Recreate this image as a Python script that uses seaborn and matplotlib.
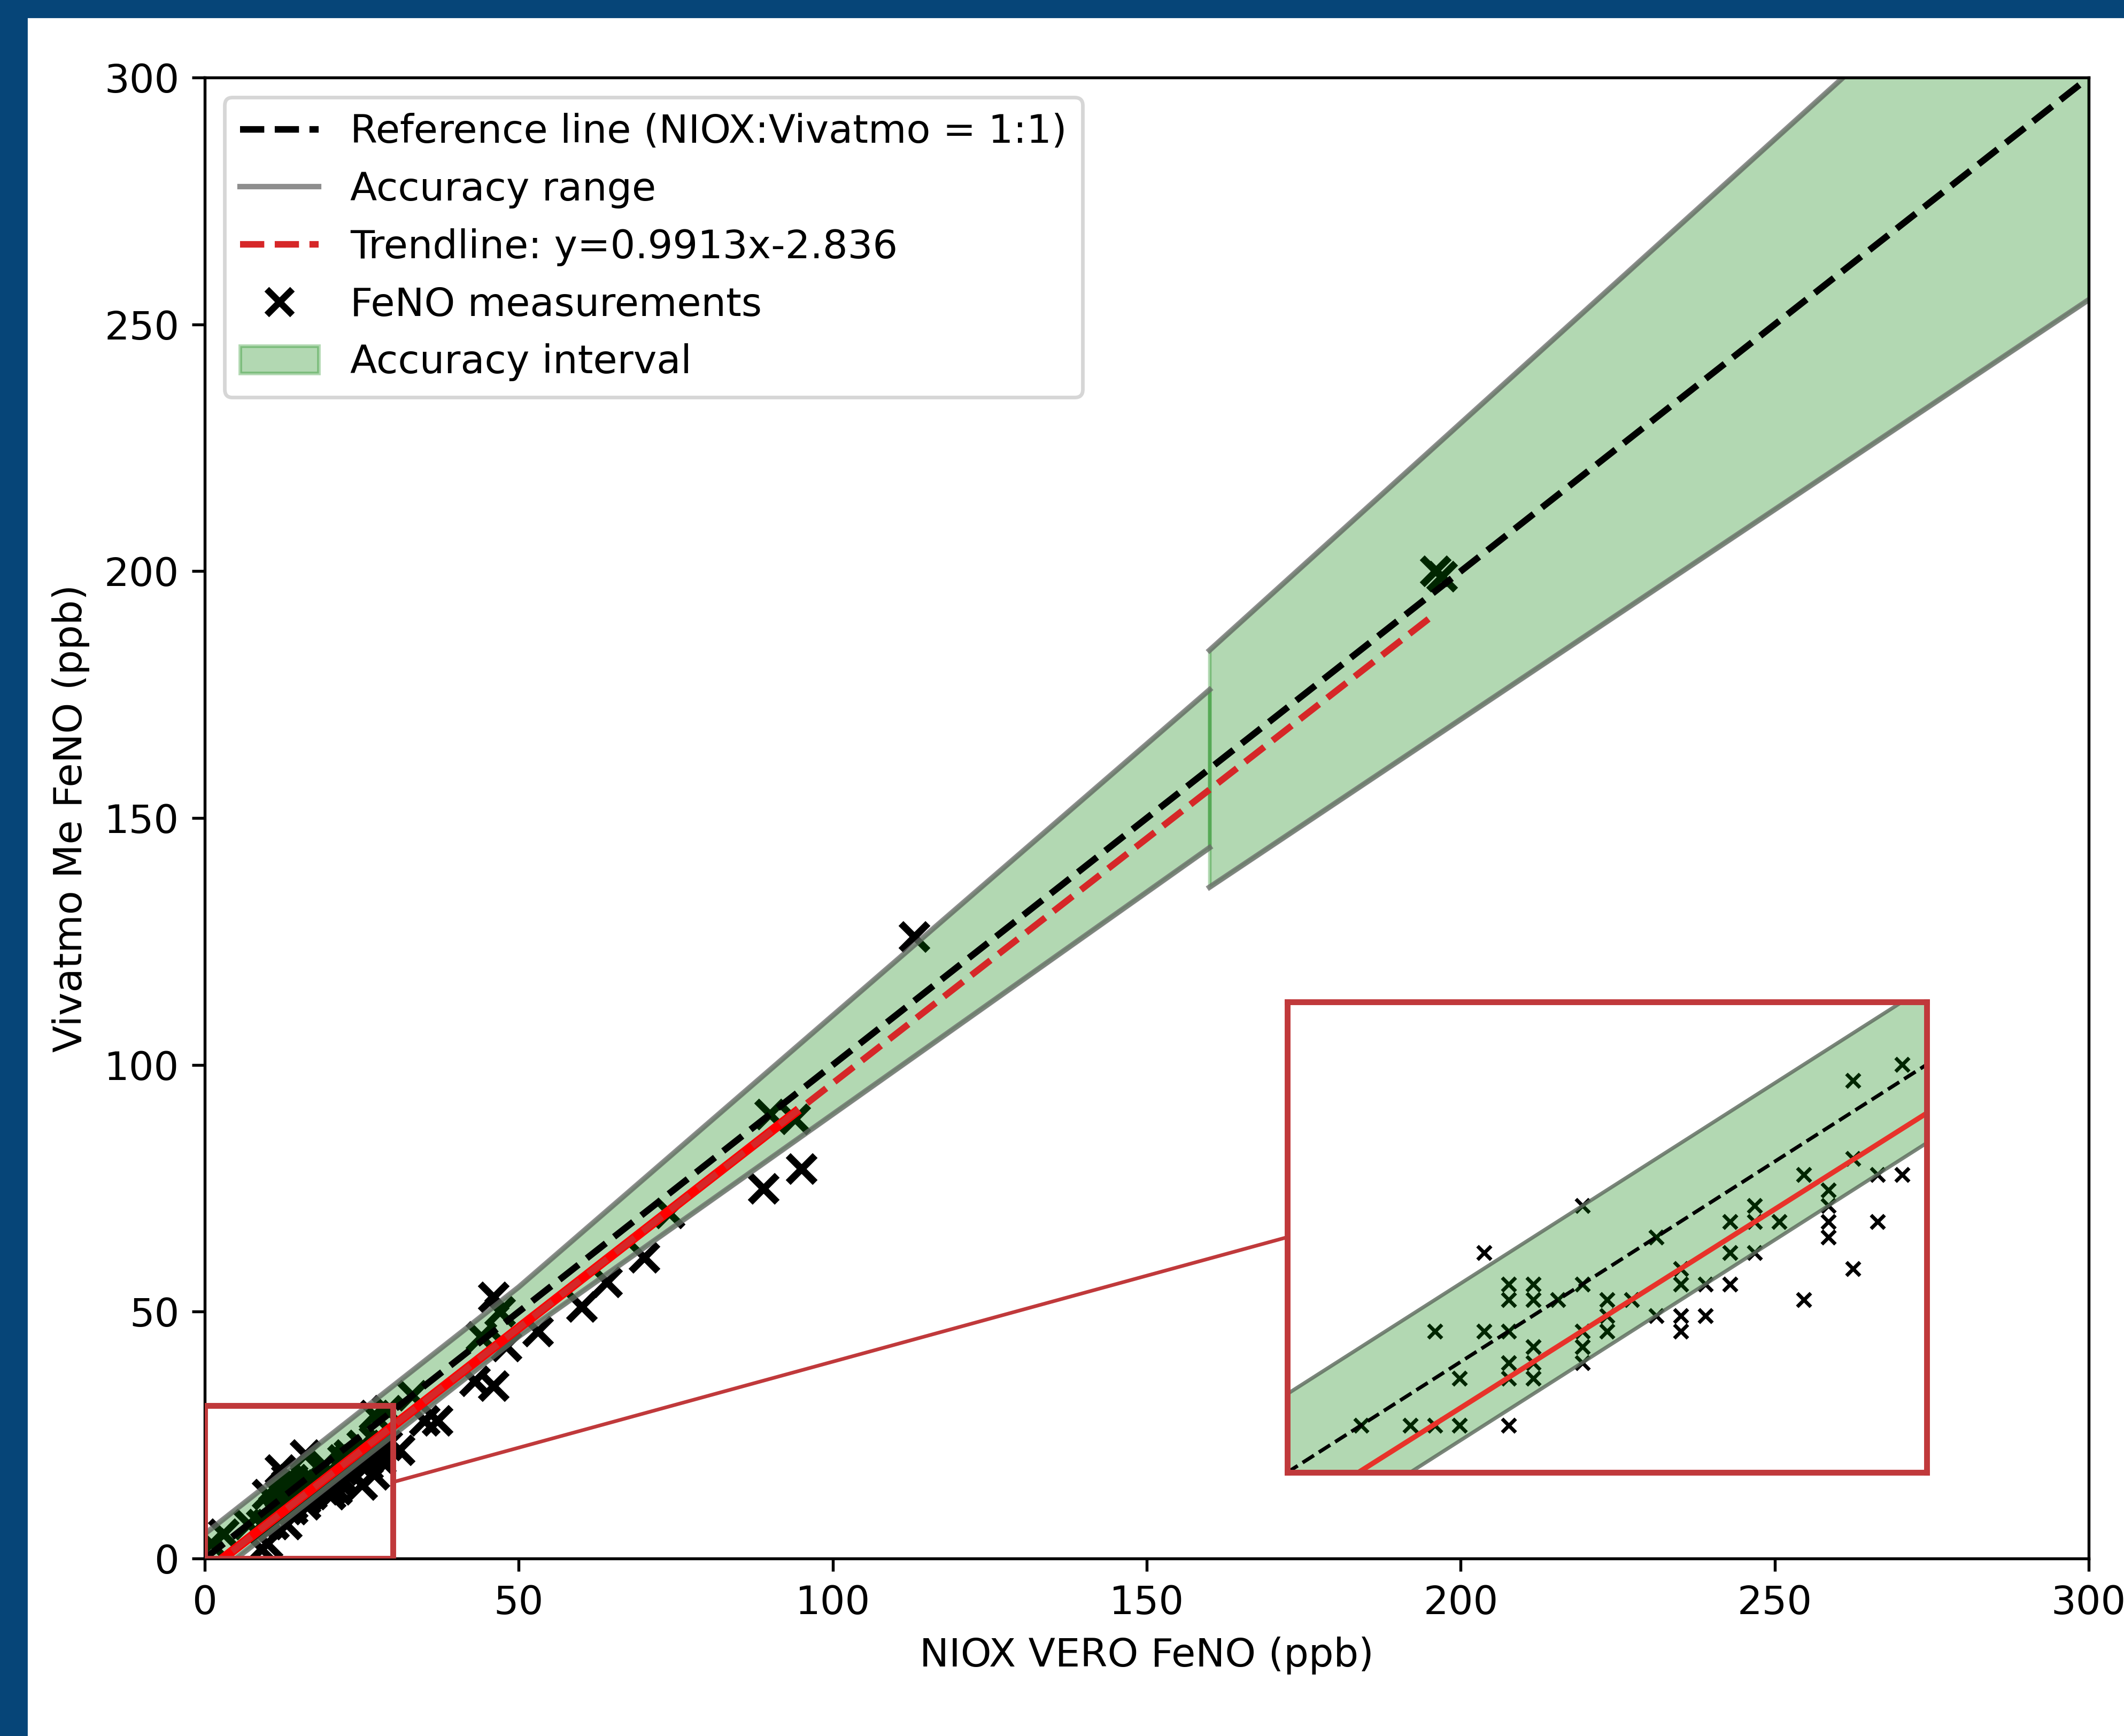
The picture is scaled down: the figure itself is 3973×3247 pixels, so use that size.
import numpy as np
import pandas as pd
import seaborn as sns
import matplotlib.pyplot as plt
from matplotlib.patches import Rectangle, Patch, ConnectionPatch
from matplotlib.lines import Line2D

plt.rcParams["font.size"] = 10.8

# === 1. Data ===
# NIOX VERO (x) vs Vivatmo Me (y), ppb
niox_low = [7, 9, 10, 11, 13, 11, 10, 12, 13, 12, 13, 13, 13, 13,
            14, 14, 14, 14, 14, 15, 16, 16, 16, 16, 16, 17, 17, 17,
            18, 19, 19, 20, 20, 20, 20, 21, 21, 22, 22, 22, 23, 23, 23,
            24, 25, 25, 26, 26, 26, 26, 27, 27, 27, 28, 28, 29, 29]
viva_low = [7, 7, 7, 7, 7, 10, 13, 13, 13, 18, 10, 11, 15, 16,
            10, 11, 12, 15, 16, 15, 21, 16, 13, 12, 11, 13, 14, 15,
            15, 19, 14, 17, 16, 14, 13, 16, 14, 20, 18, 16, 21, 20, 18,
            20, 23, 15, 22, 21, 20, 19, 29, 24, 17, 23, 20, 30, 23]

niox_other = [1, 3, 9, 10, 31, 33, 35, 37, 43, 46, 44, 46, 47, 48, 53,
              60, 64, 70, 74, 89, 95, 90, 94, 113, 196, 197]
viva_other = [3, 5, 2, 3, 22, 33, 28, 28, 36, 35, 45, 53, 50, 43, 46,
              51, 56, 61, 70, 75, 79, 90, 89, 126, 200, 199]

df = pd.DataFrame({
    "niox": niox_low + niox_other,
    "vivatmo": viva_low + viva_other,
})

# trendline y = a*x + b
trend_slope = 0.9913
trend_icpt = -2.836
trend_solid_end = 94
trend_dash_end = 196

# accuracy limits: +-5 ppb below 50, +-10% up to 160, +-15% above
# (two drawn pieces, the second one jumps at 160)
acc_knots = [[0, 50, 160], [160, 300]]
acc_upper = [[5, 55, 176], [184, 345]]
acc_lower = [[-5, 45, 144], [136, 255]]

ticks = [0, 50, 100, 150, 200, 250, 300]

GREEN = "green"
RED_BOX = "#c0393b"


def draw_band(ax, lw):
    for xs, up, lo in zip(acc_knots, acc_upper, acc_lower):
        ax.fill_between(xs, lo, up, color=GREEN, alpha=0.3)
        ax.plot(xs, up, color="dimgray", lw=lw, alpha=0.75)
        ax.plot(xs, lo, color="dimgray", lw=lw, alpha=0.75)


# === 2. Figure ===
fig = plt.figure(figsize=(3973 / 490, 3247 / 490), dpi=490)
fig.patches.append(Rectangle((0, 0), 48 / 3973, 1, transform=fig.transFigure,
                             color="#064578", zorder=-10))
fig.patches.append(Rectangle((0, 1 - 30 / 3247), 1, 30 / 3247,
                             transform=fig.transFigure, color="#064578", zorder=-10))

ax = fig.add_axes([0.0964, 0.1022, 0.887, 0.8531])

sns.scatterplot(data=df, x="niox", y="vivatmo", marker="x", color="black",
                s=55, linewidth=1.9, ax=ax, legend=False)
draw_band(ax, 1.5)

ax.plot([0, 300], [0, 300], color="black", ls="--", lw=1.8)
xs_solid = np.array([0, trend_solid_end], dtype=float)
ax.plot(xs_solid, trend_slope * xs_solid + trend_icpt, color="red", lw=2.6)
xs_dash = np.array([0, trend_dash_end], dtype=float)
ax.plot(xs_dash, trend_slope * xs_dash + trend_icpt, color="#d62728", ls="--", lw=1.8)

ax.set_xlim(0, 300)
ax.set_ylim(0, 300)
ax.set_xticks(ticks)
ax.set_yticks(ticks)
ax.set_xlabel("NIOX VERO FeNO (ppb)")
ax.set_ylabel("Vivatmo Me FeNO (ppb)")

# zoom box on main axes
ax.add_patch(Rectangle((0, 0), 30, 31, fill=False, edgecolor=RED_BOX, lw=1.6, zorder=5))

handles = [
    Line2D([], [], color="black", ls="--", lw=1.8),
    Line2D([], [], color="dimgray", lw=1.5, alpha=0.75),
    Line2D([], [], color="#d62728", ls="--", lw=1.8),
    Line2D([], [], color="black", marker="x", ls="none", markersize=7, mew=1.8),
    Patch(facecolor=GREEN, alpha=0.3, edgecolor=GREEN),
]
labels = [
    "Reference line (NIOX:Vivatmo = 1:1)",
    "Accuracy range",
    "Trendline: y=0.9913x-2.836",
    "FeNO measurements",
    "Accuracy interval",
]
ax.legend(handles, labels, loc="upper left")

# === 3. Inset ===
axin = fig.add_axes([0.606, 0.1518, 0.301, 0.271])
sns.scatterplot(data=df, x="niox", y="vivatmo", marker="x", color="black",
                s=14, linewidth=1.0, ax=axin, legend=False)
draw_band(axin, 1.0)
axin.plot([0, 300], [0, 300], color="black", ls="--", lw=1.0)
xs_in = np.array([0, 60], dtype=float)
axin.plot(xs_in, trend_slope * xs_in + trend_icpt, color="#e8322a", lw=1.4)
axin.set_xlim(4, 30)
axin.set_ylim(4, 34)
axin.set_xticks([])
axin.set_yticks([])
axin.set_xlabel("")
axin.set_ylabel("")
for sp in axin.spines.values():
    sp.set_edgecolor(RED_BOX)
    sp.set_linewidth(1.6)

con = ConnectionPatch(xyA=(30, 15.5), coordsA=ax.transData,
                      xyB=(0, 0.5), coordsB=axin.transAxes,
                      color=RED_BOX, lw=1.0)
fig.add_artist(con)

fig.savefig("out.png", dpi=490)
